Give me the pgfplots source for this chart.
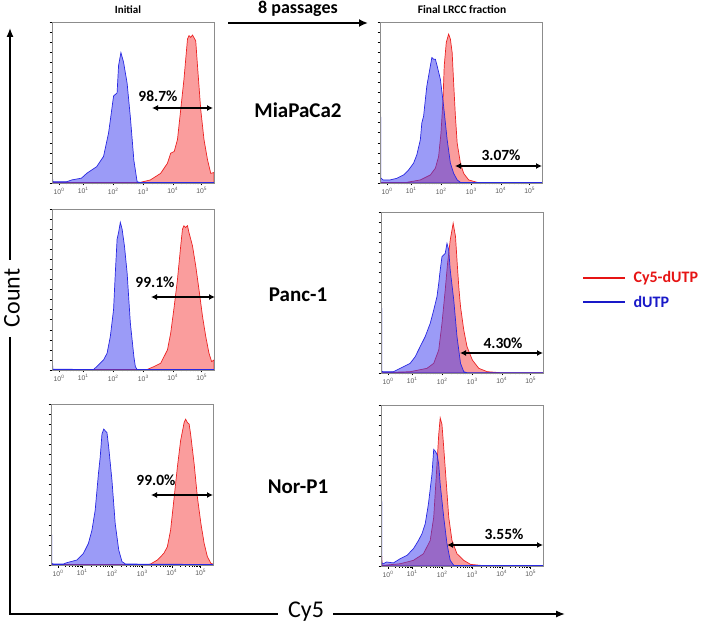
\documentclass[border=0pt]{standalone}
\usepackage{pgfplots}
\pgfplotsset{compat=1.18}
\usepackage{fontspec}
\setmainfont{Carlito}
\newfontfamily\tickfont{Liberation Sans}
\usetikzlibrary{arrows.meta}
\definecolor{rline}{RGB}{235,35,35}
\definecolor{rfill}{RGB}{245,60,60}
\definecolor{bline}{RGB}{40,40,225}
\definecolor{bfill}{RGB}{55,55,240}
\definecolor{legred}{RGB}{230,20,20}
\definecolor{legblue}{RGB}{25,25,200}
\pgfplotsset{hist/.style={scale only axis, width=162pt, height=161pt,
  xmin=0, xmax=5.5, ymin=0, ymax=100, axis on top,
  axis line style={draw=black!45, line width=0.6pt},
  xtick={0.24,1.06,2.08,3.1,4.1,5.08},
  xticklabels={10\textsuperscript{0},10\textsuperscript{1},10\textsuperscript{2},10\textsuperscript{3},10\textsuperscript{4},10\textsuperscript{5}},
  minor xtick={0.49,0.63,0.73,0.81,0.88,0.93,0.98,1.02,1.37,1.55,1.67,1.77,1.85,1.92,1.98,2.03,2.39,2.57,2.69,2.79,2.87,2.94,3.0,3.05,3.40,3.58,3.70,3.80,3.88,3.95,4.0,4.05,4.39,4.57,4.69,4.79,4.86,4.93,4.98,5.03},
  ytick={0,6.25,...,100}, yticklabels={},
  tick align=outside, xtick pos=bottom, ytick pos=left,
  major tick length=2.5pt, minor tick length=1.5pt,
  tick style={black, line width=0.4pt},
  xticklabel style={font=\tickfont\fontsize{6.8}{7}\selectfont, text=black!65, inner sep=2pt},
  anchor=south west},
  rp/.style={draw=rline, line width=0.7pt, fill=rfill, fill opacity=0.5},
  bp/.style={draw=bline, line width=0.7pt, fill=bfill, fill opacity=0.5}}
\begin{document}
\begin{tikzpicture}[x=1pt,y=1pt]
\path[use as bounding box] (0,0) rectangle (709,624);
% ---- left column ----
\begin{axis}[hist, at={(52pt,441pt)}]
\addplot[rp] coordinates {(0,0.3)(2.9,0.3)(3.0,0.4)(3.34,1.9)(3.69,6)(3.92,12.3)(4.03,18.5)(4.15,19.6)(4.26,27)(4.37,45.6)(4.48,64.4)(4.60,89.4)(4.65,91.5)(4.71,90.4)(4.77,91.9)(4.88,88.3)(4.94,72.7)(5.05,45.6)(5.16,27)(5.28,14.4)(5.39,6)(5.5,6.5)} \closedcycle;
\addplot[bp] coordinates {(0,0)(0.01,4)(0.03,1)(0.05,0.8)(0.5,0.8)(0.67,1.9)(1.0,3)(1.18,6)(1.52,10.2)(1.75,16.5)(1.92,31)(1.98,39)(2.09,54)(2.21,56)(2.26,73)(2.34,81)(2.43,75)(2.55,62)(2.66,41)(2.78,14)(2.89,0.8)(3.0,0.3)(5.5,0.3)} \closedcycle;
\end{axis}
\begin{axis}[hist, at={(52pt,254pt)}]
\addplot[rp] coordinates {(0,0.3)(3.23,0.3)(3.46,2.1)(3.69,4.2)(3.92,12.5)(4.03,22.9)(4.15,39.6)(4.26,56.3)(4.37,77.1)(4.43,87.5)(4.48,89.6)(4.54,88.5)(4.60,89.6)(4.65,85.4)(4.77,77.1)(4.88,64.6)(4.99,50)(5.11,33.3)(5.22,20.8)(5.33,10.4)(5.42,5.2)(5.5,6.25)} \closedcycle;
\addplot[bp] coordinates {(0,0)(0.01,6)(0.03,0.5)(1.41,0.3)(1.52,2.1)(1.75,6.25)(1.87,10.4)(1.98,20.8)(2.09,37.5)(2.15,60.4)(2.21,81.3)(2.26,85.4)(2.32,91.7)(2.38,87.5)(2.46,77)(2.55,60.4)(2.66,29.2)(2.78,8.3)(2.83,2.1)(2.89,0.3)(5.5,0.3)} \closedcycle;
\end{axis}
\begin{axis}[hist, at={(51pt,59pt)}]
\addplot[rp] coordinates {(0,0.3)(3.3,0.3)(3.38,0.6)(3.61,3.1)(3.83,7.2)(3.95,11.3)(4.06,21.6)(4.17,40.1)(4.29,60.7)(4.40,77.2)(4.52,88.5)(4.57,90.6)(4.63,88.5)(4.69,87.5)(4.74,81.3)(4.86,62.8)(4.97,42.2)(5.09,25.7)(5.20,13.4)(5.31,5.1)(5.43,1)(5.5,0.6)} \closedcycle;
\addplot[bp] coordinates {(0,0)(0.01,46)(0.03,1)(0.08,0.6)(0.42,0.6)(0.53,1.4)(0.88,3.1)(1.10,7.2)(1.27,13.4)(1.39,21.6)(1.50,34)(1.61,56.6)(1.67,66.9)(1.73,81.3)(1.79,84.4)(1.84,83.4)(1.90,82.3)(1.96,73.1)(2.07,52.5)(2.18,25.7)(2.30,9.3)(2.41,2.1)(2.53,0.6)(5.5,0.3)} \closedcycle;
\end{axis}
% ---- right column ----
\begin{axis}[hist, at={(380pt,441pt)}]
\addplot[rp] coordinates {(0,0.3)(0.91,0.4)(1.37,1.9)(1.71,5)(1.88,9.2)(1.99,16.5)(2.07,31)(2.14,51.9)(2.18,72.7)(2.25,87.3)(2.33,92.5)(2.39,89.4)(2.45,81)(2.50,62.3)(2.56,41.5)(2.62,24.8)(2.73,12.3)(2.84,6)(3.01,1.9)(3.30,0.4)(5.5,0.3)} \closedcycle;
\addplot[bp] coordinates {(0,0)(0.01,96.7)(0.03,3)(0.11,1.9)(0.34,1.9)(0.57,2.9)(0.80,5)(0.97,8.1)(1.14,12.3)(1.25,17.5)(1.37,26.9)(1.42,37.3)(1.48,41.5)(1.54,51.9)(1.59,60.2)(1.65,66.5)(1.76,77.9)(1.82,76.9)(1.88,76.9)(1.94,72.7)(2.05,64.4)(2.16,47.7)(2.28,26.9)(2.39,12.3)(2.50,6)(2.62,1.9)(2.73,0.4)(5.5,0.3)} \closedcycle;
\end{axis}
\begin{axis}[hist, at={(381pt,251pt)}]
\addplot[rp] coordinates {(0,0.2)(0.99,0.8)(1.56,2.9)(1.79,6)(1.96,14.3)(2.07,30.8)(2.18,51.5)(2.26,68.1)(2.35,82.6)(2.45,93)(2.53,84.7)(2.58,70.2)(2.64,53.6)(2.70,41.2)(2.81,26.7)(2.92,16.4)(3.10,8.1)(3.32,2.9)(3.61,0.8)(4.06,0.2)(5.5,0.2)} \closedcycle;
\addplot[bp] coordinates {(0,0)(0.01,98)(0.03,1)(0.08,0.8)(0.42,0.8)(0.76,3.9)(0.99,6)(1.16,10.1)(1.33,16.4)(1.50,22.6)(1.67,30.8)(1.79,39.1)(1.90,47.4)(1.96,55.7)(2.01,64)(2.07,72.2)(2.13,73.3)(2.18,74.3)(2.24,80.5)(2.30,76.4)(2.35,64)(2.47,45.3)(2.58,22.6)(2.70,6)(2.81,0.8)(2.92,0.2)(5.5,0.2)} \closedcycle;
\end{axis}
\begin{axis}[hist, at={(381pt,58pt)}]
\addplot[rp] coordinates {(0,0)(0.01,9.7)(0.04,0.5)(0.08,0.4)(0.65,1.4)(1.10,3.5)(1.44,7.6)(1.67,15.8)(1.79,30.3)(1.88,57)(1.96,81.7)(2.01,92)(2.07,87.9)(2.13,73.5)(2.22,50.8)(2.30,30.3)(2.41,15.8)(2.58,7.6)(2.81,3.5)(3.04,1)(3.38,0.4)(3.83,0.1)(5.5,0.1)} \closedcycle;
\addplot[bp] coordinates {(0,0)(0.01,96)(0.03,2)(0.08,1.4)(0.19,2.5)(0.42,1.9)(0.65,4.5)(0.88,6.6)(1.10,10.7)(1.27,15.8)(1.39,20)(1.50,26.1)(1.61,38.5)(1.73,57)(1.79,72.4)(1.84,71.4)(1.90,69.4)(1.96,63.2)(2.01,50.8)(2.13,30.3)(2.24,13.8)(2.35,3.5)(2.47,0.4)(5.5,0.3)} \closedcycle;
\end{axis}
% ---- annotations ----
\tikzset{pct/.style={font=\bfseries\fontsize{15.5}{16}\selectfont},
  dbl/.style={line width=1.2pt, {Latex[length=6pt,width=6pt]}-{Latex[length=6pt,width=6pt]}}}
\node[pct] at (158,528) {98.7\%};
\draw[dbl] (152,516) -- (213,516);
\node[pct] at (155,342) {99.1\%};
\draw[dbl] (151,327) -- (215,327);
\node[pct] at (156,144) {99.0\%};
\draw[dbl] (151,129) -- (213,129);
\node[pct] at (501,469) {3.07\%};
\draw[dbl] (455,458) -- (542,458);
\node[pct] at (503,281) {4.30\%};
\draw[dbl] (460,271) -- (543,271);
\node[pct] at (504,90) {3.55\%};
\draw[dbl] (447,79) -- (543,79);
% titles
\node[font=\bfseries\fontsize{11}{12}\selectfont] at (128,614) {Initial};
\node[font=\bfseries\fontsize{11.5}{12}\selectfont] at (462,614) {Final LRCC fraction};
\node[font=\bfseries\fontsize{18}{20}\selectfont, inner sep=0pt] at (298,615) {8 passages};
\draw[line width=2.2pt, -{Latex[length=9pt,width=8pt]}] (228,601) -- (368,601);
\node[font=\bfseries\fontsize{21}{24}\selectfont] at (298,514) {MiaPaCa2};
\node[font=\bfseries\fontsize{21}{24}\selectfont] at (298,329) {Panc-1};
\node[font=\bfseries\fontsize{21}{24}\selectfont] at (298,137) {Nor-P1};
% legend
\draw[legred, line width=2.5pt] (583,346) -- (625,346);
\draw[legblue, line width=2.5pt] (583,322) -- (625,322);
\node[anchor=west, text=legred, font=\bfseries\fontsize{16}{18}\selectfont] at (630,346) {Cy5-dUTP};
\node[anchor=west, text=legblue, font=\bfseries\fontsize{16}{18}\selectfont] at (630,322) {dUTP};
% big axes
\draw[line width=1.3pt] (10,287) -- (10,10) -- (278,10);
\draw[line width=1.3pt, -{Latex[length=9pt,width=7pt]}] (10,364) -- (10,596);
\draw[line width=1.3pt, -{Latex[length=9pt,width=7pt]}] (333,10) -- (565,10);
\node[rotate=90, font=\fontsize{24}{26}\selectfont] at (12,326) {Count};
\node[font=\fontsize{24}{26}\selectfont] at (306,12) {Cy5};
\end{tikzpicture}
\end{document}
